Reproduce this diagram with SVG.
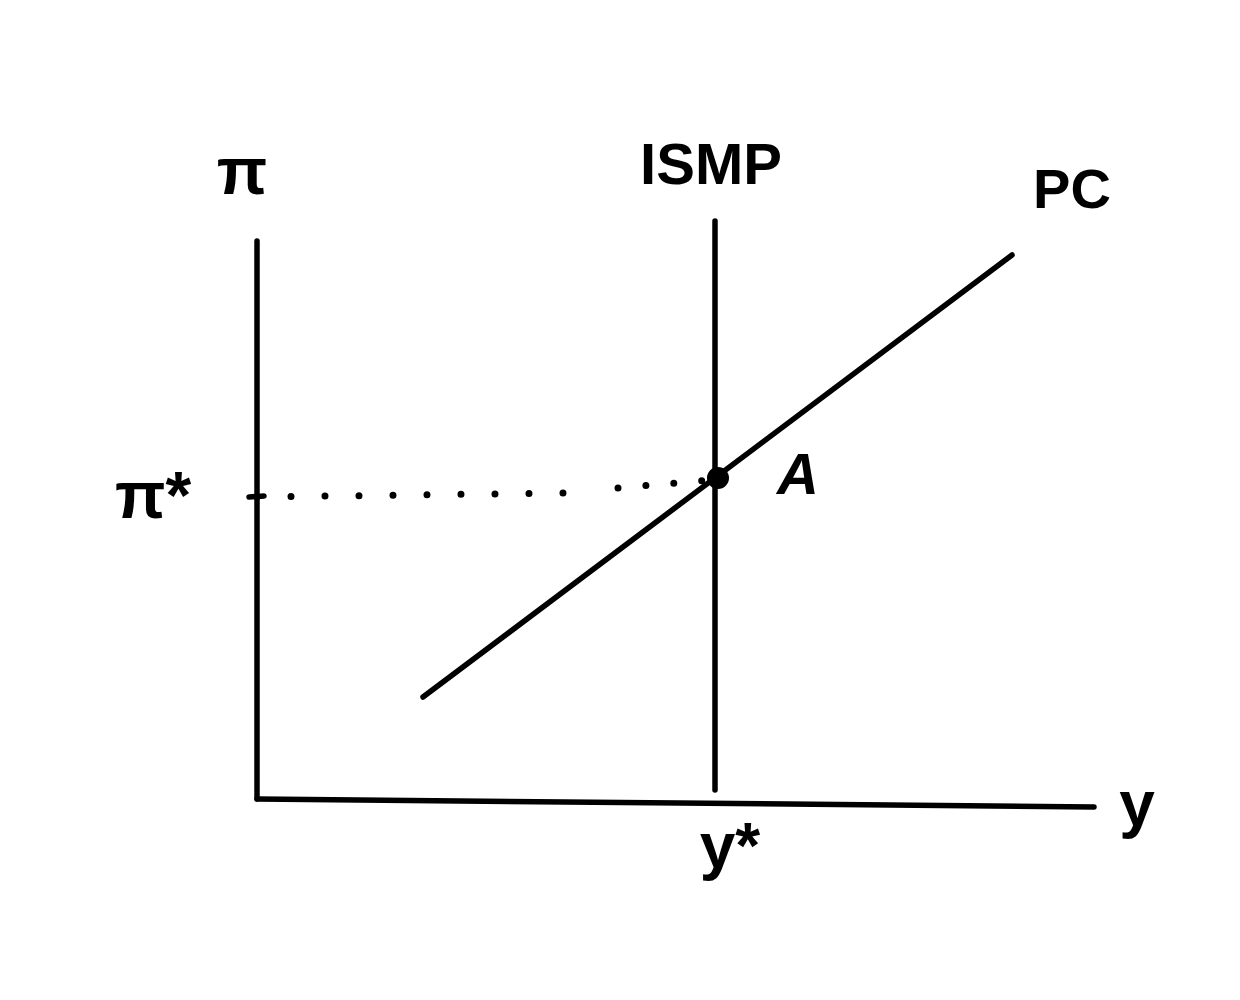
<svg xmlns="http://www.w3.org/2000/svg" width="1240" height="1000" viewBox="0 0 1240 1000">
<style>
.ln{stroke:#000;stroke-width:5.5;stroke-linecap:round;fill:none}
.dot{stroke:#000;stroke-width:7;stroke-linecap:round;fill:none;stroke-dasharray:0 34}
.lb{font-family:"Liberation Sans","DejaVu Sans",sans-serif;fill:#000;text-anchor:middle;font-weight:bold}
</style>
<rect width="1240" height="1000" fill="#fff"/>
<g id="connectors">
<path id="axis-pi" class="ln" d="M257,241 L257,799"/>
<path id="axis-y" class="ln" d="M257,799 L1094,807"/>
<path id="ismp" class="ln" d="M715,221 L715,790"/>
<path id="pc" class="ln" d="M423,697 L1012,255"/>
<path id="dotted" class="dot" d="M257,497 L566,493"/>
<path id="dotted2" class="dot" d="M618,488 L710,480" style="stroke-dasharray:0 28"/>
<path class="ln" d="M249,497 L264,496"/>
</g>
<g id="point-A">
<circle cx="718" cy="478" r="11" fill="#000"/>
<text class="lb" x="798" y="494" font-size="58" font-style="italic" font-weight="normal">A</text>
</g>
<g id="label-pi"><text class="lb" x="242" y="194" font-size="66">π</text></g>
<g id="label-ismp"><text class="lb" x="711" y="184" font-size="58" font-weight="normal">ISMP</text></g>
<g id="label-pc"><text class="lb" x="1072" y="208" font-size="56" font-weight="normal">PC</text></g>
<g id="label-pistar"><text class="lb" x="153" y="518" font-size="66">π*</text></g>
<g id="label-y"><text class="lb" x="1137" y="826" font-size="64" font-weight="normal">y</text></g>
<g id="label-ystar"><text class="lb" x="730" y="868" font-size="64" font-weight="normal">y*</text></g>
</svg>
